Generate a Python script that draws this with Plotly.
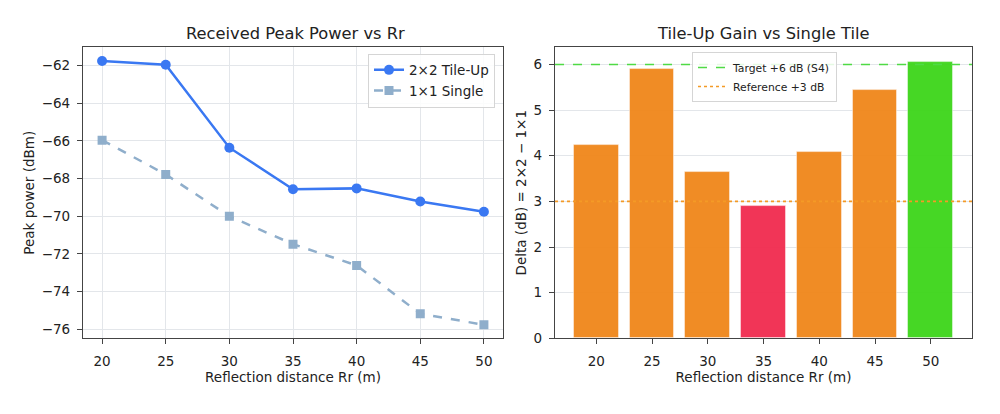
import plotly.graph_objects as go

# ---- data ----
rr = [20, 25, 30, 35, 40, 45, 50]
tile_up = [-61.76, -61.96, -66.36, -68.57, -68.52, -69.22, -69.76]
single = [-65.96, -67.78, -70.0, -71.48, -72.61, -75.18, -75.76]
delta = [4.24, 5.89, 3.64, 2.90, 4.07, 5.44, 6.06]
bar_colors = ["#F0861A", "#F0861A", "#F0861A", "#F12B4E", "#F0861A", "#F0861A", "#3DD51A"]
target_db = 6
reference_db = 3
x_ticks = [20, 25, 30, 35, 40, 45, 50]
y_ticks_left = [-62, -64, -66, -68, -70, -72, -74, -76]
y_ticks_right = [0, 1, 2, 3, 4, 5, 6]

FONT = "DejaVu Sans"
TXT = "#222222"
FS = 13.5

fig = go.Figure()

fig.add_trace(go.Scatter(
    x=rr, y=tile_up, mode="lines+markers", name="2×2 Tile-Up",
    line=dict(color="#3A78F2", width=2.5),
    marker=dict(symbol="circle", size=10, color="#3A78F2"),
    xaxis="x", yaxis="y", legend="legend"))
fig.add_trace(go.Scatter(
    x=rr, y=single, mode="lines+markers", name="1×1 Single",
    line=dict(color="#8FAECB", width=2.5, dash="dash"),
    marker=dict(symbol="square", size=9, color="#8FAECB"),
    xaxis="x", yaxis="y", legend="legend"))

fig.add_trace(go.Bar(
    x=rr, y=delta, width=4, marker=dict(color=bar_colors, opacity=0.95,
                                       line=dict(color="rgba(255,255,255,0.45)", width=1)),
    showlegend=False, xaxis="x2", yaxis="y2"))

x2_range = [16.3, 53.7]
fig.add_trace(go.Scatter(
    x=x2_range, y=[target_db, target_db], mode="lines", name="Target +6 dB (S4)",
    line=dict(color="#4FDA45", width=1.4, dash="dash"),
    xaxis="x2", yaxis="y2", legend="legend2"))
fig.add_trace(go.Scatter(
    x=x2_range, y=[reference_db, reference_db], mode="lines", name="Reference +3 dB",
    line=dict(color="#F49A26", width=1.6, dash="dot"),
    xaxis="x2", yaxis="y2", legend="legend2"))

ax_common = dict(showline=True, mirror=True, linecolor="#444444", linewidth=1.3,
                 ticks="outside", ticklen=5, tickcolor="#444444",
                 tickfont=dict(family=FONT, size=FS, color=TXT),
                 zeroline=False)

fig.update_layout(
    width=1000, height=414,
    margin=dict(l=0, r=0, t=0, b=0),
    paper_bgcolor="white", plot_bgcolor="white",
    font=dict(family=FONT, color=TXT),
    xaxis=dict(domain=[0.083, 0.503], range=[18.5, 51.5], tickvals=x_ticks,
               showgrid=True, gridcolor="#E3E6EA", gridwidth=1, ticklabelstandoff=5,
               title=dict(text="Reflection distance Rr (m)", font=dict(size=FS, family=FONT), standoff=3),
               anchor="y", **ax_common),
    yaxis=dict(domain=[0.1667, 0.884], range=[-76.48, -61.02], tickvals=y_ticks_left,
               showgrid=True, gridcolor="#E3E6EA", gridwidth=1, ticklabelstandoff=4,
               title=dict(text="Peak power (dBm)", font=dict(size=FS, family=FONT), standoff=3),
               anchor="x", **ax_common),
    xaxis2=dict(domain=[0.555, 0.972], range=x2_range, tickvals=x_ticks,
                showgrid=False, ticklabelstandoff=5,
                title=dict(text="Reflection distance Rr (m)", font=dict(size=FS, family=FONT), standoff=3),
                anchor="y2", **ax_common),
    yaxis2=dict(domain=[0.1667, 0.884], range=[0, 6.38], tickvals=y_ticks_right,
                showgrid=True, gridcolor="#E3E6EA", gridwidth=1, ticklabelstandoff=4,
                title=dict(text="Delta (dB) = 2×2 − 1×1", font=dict(size=FS, family=FONT), standoff=3),
                anchor="x2", **ax_common),
    legend=dict(x=0.495, y=0.868, xanchor="right", yanchor="top",
                bgcolor="rgba(255,255,255,0.85)", bordercolor="#D5D5D5", borderwidth=1,
                font=dict(family=FONT, size=FS, color=TXT), tracegroupgap=0),
    legend2=dict(x=0.7645, y=0.872, xanchor="center", yanchor="top",
                 bgcolor="rgba(255,255,255,0.85)", bordercolor="#D5D5D5", borderwidth=1,
                 font=dict(family=FONT, size=10.8, color=TXT), tracegroupgap=0),
    bargap=0,
    annotations=[
        dict(text="Received Peak Power vs Rr", x=0.295, y=1 - 34 / 414, xref="paper", yref="paper",
             xanchor="center", yanchor="middle",
             showarrow=False, font=dict(family=FONT, size=16.3, color=TXT)),
        dict(text="Tile-Up Gain vs Single Tile", x=0.763, y=1 - 34 / 414, xref="paper", yref="paper",
             xanchor="center", yanchor="middle",
             showarrow=False, font=dict(family=FONT, size=16.3, color=TXT)),
    ],
)

fig.write_html("out.html")
